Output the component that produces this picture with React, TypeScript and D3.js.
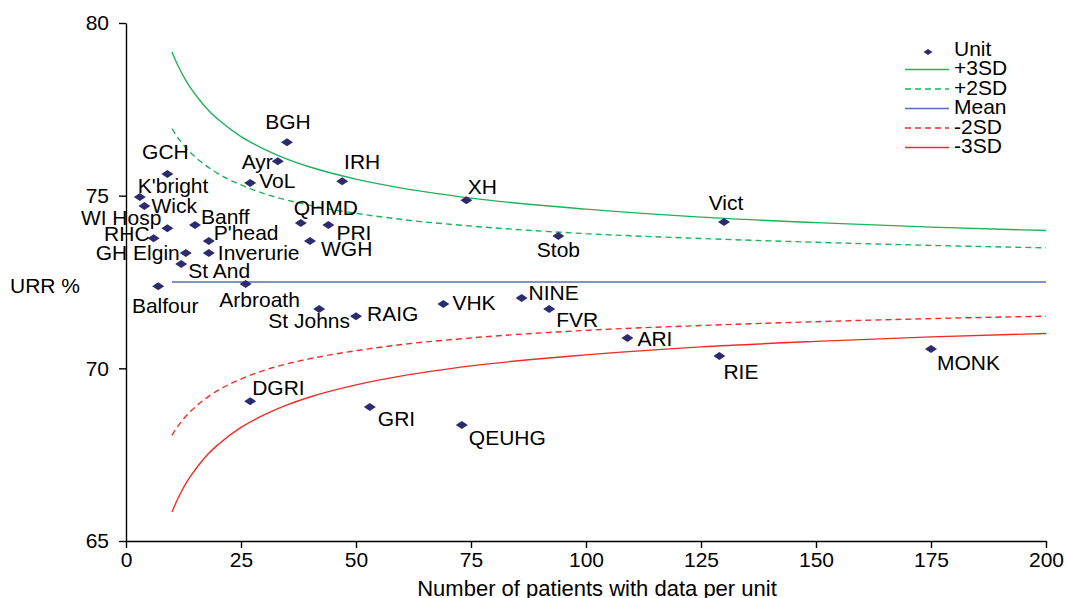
import React, { useRef, useEffect } from 'react'
import * as d3 from 'd3'

// unit names, number of patients and mean URR
const units = [
    "GCH", "K'bright", "Wick", "WI Hosp", "Banff", "RHC", "P'head", "GH Elgin",
    "Inverurie", "St And", "Balfour", "Arbroath", "BGH", "Ayr", "VoL", "IRH",
    "XH", "QHMD", "PRI", "WGH", "Stob", "Vict", "St Johns", "RAIG", "VHK",
    "NINE", "FVR", "ARI", "RIE", "MONK", "DGRI", "GRI", "QEUHG",
];
const patients = [
    9, 3, 4, 9, 15, 6, 18, 13,
    18, 12, 7, 26, 35, 33, 27, 47,
    74, 38, 44, 40, 94, 130, 42, 50, 69,
    86, 92, 109, 129, 175, 27, 53, 73,
];
const urr = [
    75.63, 74.96, 74.7, 74.06, 74.15, 73.77, 73.69, 73.34,
    73.34, 73.02, 72.38, 72.44, 76.55, 76.0, 75.37, 75.42,
    74.87, 74.21, 74.15, 73.69, 73.83, 74.24, 71.72, 71.51, 71.86,
    72.04, 71.72, 70.88, 70.36, 70.56, 69.05, 68.88, 68.36,
];

// control limits read along the funnel
const limitN = [10, 11, 12, 13, 14, 16, 18, 20, 25, 30, 35, 40, 50, 60, 75, 100, 125, 150, 175, 200];
const plus3SD = [79.16, 78.85, 78.58, 78.34, 78.13, 77.77, 77.46, 77.21, 76.71, 76.35, 76.06, 75.83, 75.48, 75.22, 74.93, 74.61, 74.38, 74.22, 74.09, 73.99];
const plus2SD = [76.94, 76.73, 76.55, 76.39, 76.25, 76.01, 75.81, 75.64, 75.31, 75.06, 74.87, 74.72, 74.49, 74.31, 74.12, 73.9, 73.76, 73.65, 73.56, 73.49];
const meanURR = [72.5, 72.5, 72.5, 72.5, 72.5, 72.5, 72.5, 72.5, 72.5, 72.5, 72.5, 72.5, 72.5, 72.5, 72.5, 72.5, 72.5, 72.5, 72.5, 72.5];
const minus2SD = [68.06, 68.27, 68.45, 68.61, 68.75, 68.99, 69.19, 69.36, 69.69, 69.94, 70.13, 70.28, 70.51, 70.69, 70.88, 71.1, 71.24, 71.35, 71.44, 71.51];
const minus3SD = [65.84, 66.15, 66.42, 66.66, 66.87, 67.23, 67.54, 67.79, 68.29, 68.65, 68.94, 69.17, 69.52, 69.78, 70.07, 70.39, 70.62, 70.78, 70.91, 71.01];

const xTicks = [0, 25, 50, 75, 100, 125, 150, 175, 200];
const yTicks = [65, 70, 75, 80];

// where each label sits relative to its marker: [dx, dy, anchor]
const labelPos: Record<string, [number, number, string]> = {
    "GCH": [-2, -22, "middle"],
    "K'bright": [-2, -12, "start"],
    "Wick": [7, -1, "start"],
    "WI Hosp": [-6, -11, "end"],
    "Banff": [6, -9, "start"],
    "RHC": [-4, -5, "end"],
    "P'head": [5, -8, "start"],
    "GH Elgin": [-6, -1, "end"],
    "Inverurie": [9, -1, "start"],
    "St And": [7, 6, "start"],
    "Balfour": [7, 19, "middle"],
    "Arbroath": [14, 15, "middle"],
    "BGH": [1, -21, "middle"],
    "Ayr": [-5, 0, "end"],
    "VoL": [9, -2, "start"],
    "IRH": [20, -20, "middle"],
    "XH": [16, -14, "middle"],
    "QHMD": [25, -16, "middle"],
    "PRI": [8, 7, "start"],
    "WGH": [11, 8, "start"],
    "Stob": [0, 13, "middle"],
    "Vict": [2, -19, "middle"],
    "St Johns": [-10, 12, "middle"],
    "RAIG": [11, -3, "start"],
    "VHK": [9, -2, "start"],
    "NINE": [7, -5, "start"],
    "FVR": [7, 11, "start"],
    "ARI": [10, 0, "start"],
    "RIE": [4, 16, "start"],
    "MONK": [6, 13, "start"],
    "DGRI": [2, -14, "start"],
    "GRI": [8, 11, "start"],
    "QEUHG": [7, 12, "start"],
};

const FONT = "'Liberation Sans', Arial, Helvetica, sans-serif";
const DIAMOND = "M0,-4L6,0L0,4L-6,0Z";
const MARK = "#2d2b6e";

export default function App() {
    const svgRef = useRef<SVGSVGElement>(null);
    const width = 1066;
    const height = 598;
    const margin = { top: 23, right: 20, bottom: 57, left: 126 };

    useEffect(() => {
        const svg = d3.select(svgRef.current);
        svg.selectAll("*").remove();

        const x = d3.scaleLinear().domain([0, 200]).range([margin.left, width - margin.right]);
        const y = d3.scaleLinear().domain([65, 80]).range([height - margin.bottom, margin.top]);

        const series = [
            { name: "+3SD", values: plus3SD, color: "#1fb25a", dash: null },
            { name: "+2SD", values: plus2SD, color: "#1fb25a", dash: "6,4" },
            { name: "Mean", values: meanURR, color: "#5a6db3", dash: null },
            { name: "-2SD", values: minus2SD, color: "#ee2e26", dash: "6,4" },
            { name: "-3SD", values: minus3SD, color: "#ee2e26", dash: null },
        ];

        const line = d3.line<[number, number]>()
            .x(d => x(d[0]))
            .y(d => y(d[1]))
            .curve(d3.curveMonotoneX);

        svg.append("g").selectAll("path")
            .data(series)
            .join("path")
            .attr("d", s => line(limitN.map((n, i) => [n, s.values[i]])))
            .attr("fill", "none")
            .attr("stroke", s => s.color)
            .attr("stroke-width", 1.4)
            .attr("stroke-dasharray", s => s.dash);

        // axes
        const yAxis = svg.append("g")
            .attr("transform", `translate(${margin.left},0)`)
            .call(d3.axisLeft(y).tickValues(yTicks).tickSize(7).tickPadding(10).tickSizeOuter(0));
        const xAxis = svg.append("g")
            .attr("transform", `translate(0,${height - margin.bottom})`)
            .call(d3.axisBottom(x).tickValues(xTicks).tickSize(7).tickPadding(4).tickSizeOuter(0));
        [yAxis, xAxis].forEach(g => {
            g.selectAll("path, line").attr("stroke", "#000").attr("stroke-width", 1.4);
            g.selectAll("text").attr("font-family", FONT).attr("font-size", 21).attr("fill", "#000");
        });

        // markers and labels
        const pts = units.map((u, i) => ({ name: u, n: patients[i], v: urr[i] }));
        svg.append("g").selectAll("path")
            .data(pts)
            .join("path")
            .attr("d", DIAMOND)
            .attr("transform", d => `translate(${x(d.n)},${y(d.v)})`)
            .attr("fill", MARK);

        svg.append("g")
            .attr("font-family", FONT)
            .attr("font-size", 21)
            .selectAll("text")
            .data(pts)
            .join("text")
            .attr("x", d => x(d.n) + labelPos[d.name][0])
            .attr("y", d => y(d.v) + labelPos[d.name][1])
            .attr("dy", "0.36em")
            .attr("text-anchor", d => labelPos[d.name][2])
            .text(d => d.name);

        // axis titles
        svg.append("text")
            .attr("x", 10).attr("y", 285).attr("dy", "0.36em")
            .attr("font-family", FONT).attr("font-size", 21)
            .text("URR %");
        svg.append("text")
            .attr("x", (x(0) + x(200)) / 2 + 11).attr("y", 596)
            .attr("text-anchor", "middle")
            .attr("font-family", FONT).attr("font-size", 22)
            .text("Number of patients with data per unit");

        // legend
        const legend = svg.append("g")
            .attr("transform", "translate(905,48)")
            .attr("font-family", FONT)
            .attr("font-size", 21);
        legend.append("path")
            .attr("d", DIAMOND)
            .attr("transform", "translate(23,4) scale(0.75)")
            .attr("fill", MARK);
        legend.append("text").attr("x", 49).attr("y", 0).attr("dy", "0.36em").text("Unit");
        const rows = legend.selectAll("g.row")
            .data(series)
            .join("g")
            .attr("class", "row")
            .attr("transform", (d, i) => `translate(0,${(i + 1) * 19.5})`);
        rows.append("line")
            .attr("x1", 0).attr("x2", 44).attr("y1", 2).attr("y2", 2)
            .attr("stroke", d => d.color)
            .attr("stroke-width", 1.4)
            .attr("stroke-dasharray", d => d.dash);
        rows.append("text")
            .attr("x", 49).attr("y", 0).attr("dy", "0.36em")
            .text(d => d.name);
    }, []);

    return (
        <svg
            ref={svgRef}
            width={width}
            height={height}
            style={{ position: 'absolute', left: 0, top: 0, background: '#fff' }}
        />
    )
}
